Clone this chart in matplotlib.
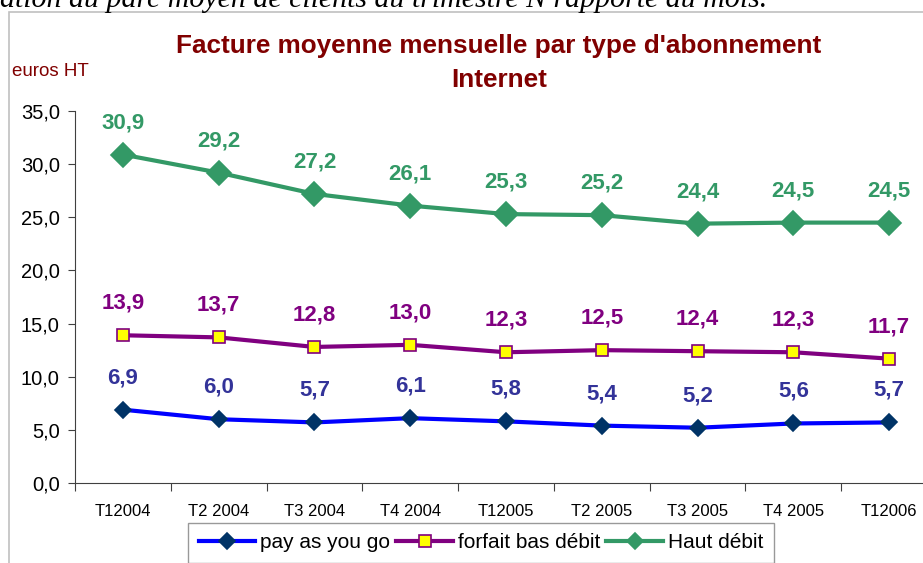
import matplotlib
matplotlib.use("Agg")
import matplotlib.pyplot as plt
from matplotlib.patches import Rectangle

plt.rcParams['font.family'] = ['Liberation Sans', 'DejaVu Sans']

# data
quarters = ['T12004', 'T2 2004', 'T3 2004', 'T4 2004', 'T12005',
            'T2 2005', 'T3 2005', 'T4 2005', 'T12006']
pay_as_you_go = [6.9, 6.0, 5.7, 6.1, 5.8, 5.4, 5.2, 5.6, 5.7]
forfait_bas_debit = [13.9, 13.7, 12.8, 13.0, 12.3, 12.5, 12.4, 12.3, 11.7]
haut_debit = [30.9, 29.2, 27.2, 26.1, 25.3, 25.2, 24.4, 24.5, 24.5]
yticks = [0, 5, 10, 15, 20, 25, 30, 35]

W, H = 923, 563
fig = plt.figure(figsize=(W / 100, H / 100), dpi=100)

# outer chart frame (cut off at right and bottom)
fig.patches.append(Rectangle((9 / W, -0.1), 1.2, 1 - 12 / H + 0.1,
                             transform=fig.transFigure, fill=False,
                             edgecolor='#c0c0c0', linewidth=1.2))

# clipped caption line from the page above the chart
fig.text(0.0, 1 - 7 / H, "ation du parc moyen de clients au trimestre N rapporté au mois.",
         family='Liberation Serif', style='italic', fontsize=21.5, va='baseline', ha='left')

ax = fig.add_axes([75 / W, 1 - 483 / H, (937 - 75) / W, (483 - 111) / H])
x = list(range(len(quarters)))

series = [
    (pay_as_you_go, 'pay as you go', '#0000ff', 'D', '#003366', '#003366', 8, '#333399'),
    (forfait_bas_debit, 'forfait bas débit', '#800080', 's', '#ffff00', '#800080', 8.5, '#800080'),
    (haut_debit, 'Haut débit', '#339966', 'D', '#339966', '#339966', 12, '#339966'),
]
for vals, name, col, mk, mfc, mec, ms, lcol in series:
    ax.plot(x, vals, color=col, linewidth=3, marker=mk, markersize=ms,
            markerfacecolor=mfc, markeredgecolor=mec, markeredgewidth=1.2,
            label=name, clip_on=False, zorder=3)
    for xi, v in zip(x, vals):
        ax.annotate(('%.1f' % v).replace('.', ','), (xi, v), xytext=(0, 32),
                    textcoords='offset pixels', ha='center', va='center',
                    fontsize=16, fontweight='bold', color=lcol)

ax.set_xlim(-0.5, len(quarters) - 0.5)
ax.set_ylim(0, 35)
ax.set_yticks(yticks)
ax.set_yticklabels([('%.1f' % t).replace('.', ',') for t in yticks], fontsize=14.5)
ax.set_xticks([i + 0.5 for i in range(-1, len(quarters))], minor=False)
ax.set_xticklabels([])
ax.set_xticks(x, minor=True)
ax.set_xticklabels(quarters, minor=True, fontsize=12)
ax.tick_params(axis='x', which='major', length=6, direction='out', color='#404040')
ax.tick_params(axis='x', which='minor', length=0, pad=15)
ax.tick_params(axis='y', length=5, direction='out', color='#404040', pad=6)
for s in ['top', 'right']:
    ax.spines[s].set_visible(False)
ax.spines['left'].set_color('#404040')
ax.spines['bottom'].set_color('#404040')

fig.text(499 / W, 1 - 46 / H, "Facture moyenne mensuelle par type d'abonnement",
         ha='center', va='center', fontsize=18.8, fontweight='bold', color='#800000')
fig.text(499 / W, 1 - 80 / H, "Internet",
         ha='center', va='center', fontsize=18.8, fontweight='bold', color='#800000')
fig.text(12 / W, 1 - 72 / H, "euros HT", ha='left', va='center', fontsize=13.5, color='#800000')

leg = ax.legend(loc='upper center', bbox_to_anchor=(481 / W, 1 - 523 / H),
                bbox_transform=fig.transFigure, ncol=3, fontsize=15,
                frameon=True, fancybox=False, edgecolor='#808080',
                handlelength=2.7, handletextpad=0.25, columnspacing=0.3,
                borderpad=0.5, borderaxespad=0)
leg.get_frame().set_linewidth(1.0)
for h in leg.legend_handles:
    h.set_markersize(8)

fig.savefig('out.png', dpi=100)
